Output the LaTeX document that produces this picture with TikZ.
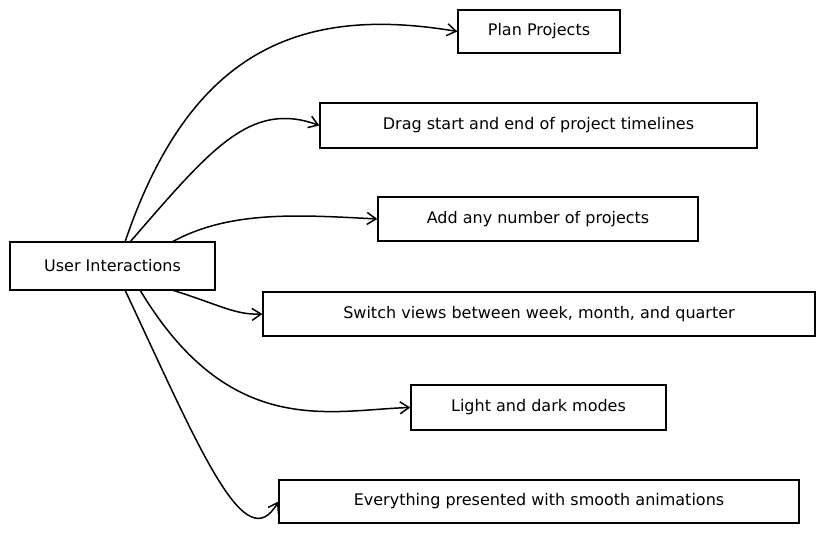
\documentclass[tikz,border=0pt]{standalone}
\usepackage{fontspec}
\setmainfont{DejaVu Sans}
\usetikzlibrary{arrows.meta}
\begin{document}
\begin{tikzpicture}[x=1pt,y=-1pt,
  box/.style={draw,line width=1.3pt,rectangle,inner sep=0pt,font=\fontsize{16}{18}\selectfont},
  conn/.style={line width=1.5pt,-{Straight Barb[length=9pt,width=12pt,line width=1.5pt]}}]
\useasboundingbox (0,0) rectangle (823,534);
\node[box,minimum width=205pt,minimum height=48pt] (u) at (112.5,266) {User Interactions};
\node[box,minimum width=162pt,minimum height=43pt] (p) at (539,31.5) {Plan Projects};
\node[box,minimum width=437pt,minimum height=45pt] (d) at (538.5,125.5) {Drag start and end of project timelines};
\node[box,minimum width=320pt,minimum height=44pt] (a) at (538,219) {Add any number of projects};
\node[box,minimum width=552pt,minimum height=44pt] (s) at (539,314) {Switch views between week, month, and quarter};
\node[box,minimum width=255pt,minimum height=45pt] (l) at (538.5,407.5) {Light and dark modes};
\node[box,minimum width=520pt,minimum height=43pt] (e) at (539,501.5) {Everything presented with smooth animations};
\coordinate (o1) at (125,242);
\coordinate (o2) at (130,242);
\coordinate (o3) at (172,242);
\coordinate (o4) at (172,290);
\coordinate (o5) at (140,290);
\coordinate (o6) at (125,290);
\draw[conn] (o1) .. controls (190,50) and (300,5) .. (p.west);
\draw[conn] (o2) .. controls (210,150) and (250,100) .. (d.west);
\draw[conn] (o3) .. controls (230,210) and (300,215) .. (a.west);
\draw[conn] (o4) .. controls (220,305) and (235,315) .. (s.west);
\draw[conn] (o5) .. controls (230,440) and (330,410) .. (l.west);
\draw[conn] (o6) .. controls (200,450) and (245,560) .. (e.west);
\end{tikzpicture}
\end{document}
